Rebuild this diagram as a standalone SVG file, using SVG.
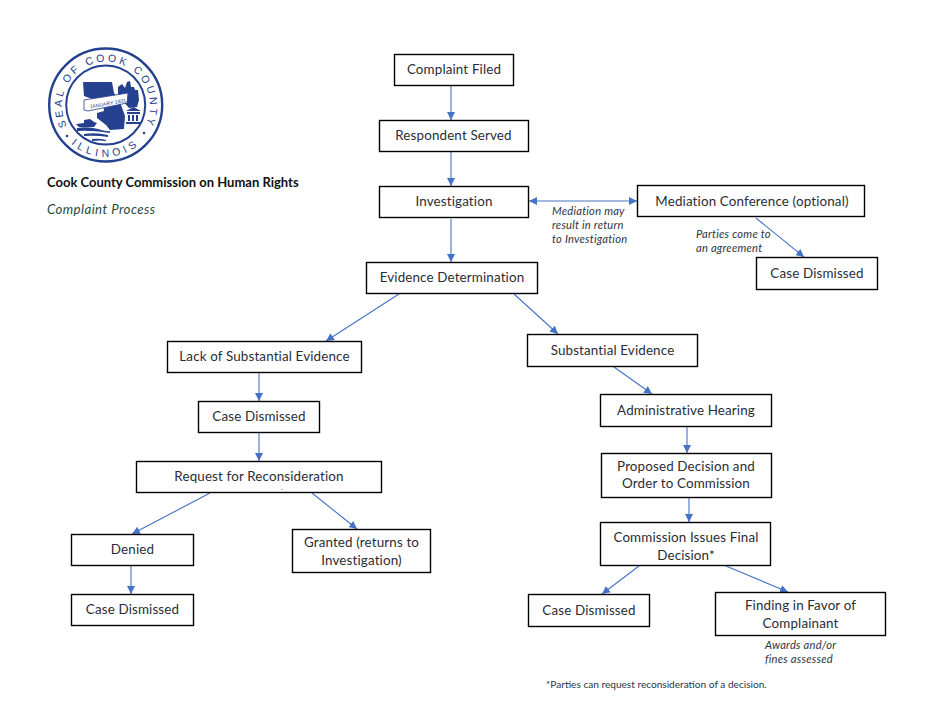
<svg xmlns="http://www.w3.org/2000/svg" width="936" height="717" viewBox="0 0 936 717">
<style>
text{font-family:"Lato","Noto Sans",sans-serif;fill:#222}
.b rect{fill:#fff;stroke:#000;stroke-width:1.4}
.b text{font-size:13.4px;text-anchor:middle;letter-spacing:.14px;fill:#2a2d36}
.n{font-size:11.2px;font-style:italic;fill:#2c3544;letter-spacing:.22px}
#connectors line{stroke:#4472c4;stroke-width:1.1;marker-end:url(#a)}
.s{fill:#24408e;font-size:10.500px;font-family:"Liberation Sans",sans-serif;text-anchor:middle}
</style>
<defs>
<marker id="a" markerUnits="userSpaceOnUse" markerWidth="9" markerHeight="8" refX="8" refY="4" orient="auto-start-reverse"><path d="M0 0L8 4L0 8z" fill="#4472c4"/></marker>
<path id="st" d="M66 124A44 44 0 1 1 146 124"/>
<path id="sb" d="M62 133A52 52 0 0 0 149.400 133"/>
</defs>
<rect width="936" height="717" fill="#fff"/>
<g id="seal">
<circle cx="105.700" cy="105" r="56.500" fill="none" stroke="#24408e" stroke-width="2.400"/>
<circle cx="105.700" cy="105" r="39.500" fill="none" stroke="#24408e" stroke-width="2"/>
<text class="s" style="letter-spacing:2.900px"><textPath href="#st" startOffset="50%">SEAL OF COOK COUNTY</textPath></text>
<text class="s" style="letter-spacing:4px"><textPath href="#sb" startOffset="50%">ILLINOIS</textPath></text>
<circle cx="67" cy="136" r="1.300" fill="#24408e"/><circle cx="144" cy="133" r="1.300" fill="#24408e"/>
<path d="M83 82H112L114 93L120 102L125 116L124 129L110 130L106 125L97 118L97 113L104 111L103 103L84 96z" fill="#24408e"/>
<path d="M118 87L122 84L125 88L127 82L130 81L131 87L134 87L135 90L138 90L139 100L137 107L129 108L122 100L118 95z" fill="#24408e"/>
<path d="M127 112H140V114H127zM128 115H130V121H128zM132 115H134V121H132zM136 115H138V121H136zM126 122H141V124H126zM133.500 107L141 111H126z" fill="#24408e"/>
<path d="M84 100L128 93L127 103L88 111L84 110z" fill="#fff" stroke="#24408e" stroke-width=".8"/>
<text x="0" y="0" transform="translate(90 108.500) rotate(-10)" style="font-size:5.200px;fill:#24408e;font-family:'Liberation Sans',sans-serif">JANUARY 1831</text>
<path d="M76 124L84 123L84 120L90 119L94 122L97 123L94 127H79zM77 128Q88 126 98 129T110 131V133Q90 130 77 131zM84 134Q96 132 108 135V137Q96 135 84 136zM92 139Q100 138 106 140V141Q100 140 92 141z" fill="#24408e"/>
</g>
<text x="47" y="187" style="font-size:13px;font-weight:700;fill:#111">Cook County Commission on Human Rights</text>
<text x="47" y="214" style="font-size:13.200px;font-style:italic;fill:#1d4a3c;letter-spacing:.45px">Complaint Process</text>
<g id="connectors">
<line x1="451" y1="86" x2="451" y2="120"/>
<line x1="451" y1="152" x2="451" y2="186"/>
<line x1="451" y1="219" x2="451" y2="262"/>
<line x1="529" y1="201" x2="637" y2="201" style="marker-start:url(#a)"/>
<line x1="756" y1="218" x2="804" y2="257"/>
<line x1="399" y1="294" x2="326" y2="341"/>
<line x1="514" y1="294" x2="558" y2="334"/>
<line x1="259" y1="373" x2="259" y2="401"/>
<line x1="259" y1="433" x2="259" y2="461"/>
<line x1="210" y1="493" x2="132" y2="534"/>
<line x1="312" y1="493" x2="357" y2="529"/>
<line x1="131" y1="566" x2="131" y2="594"/>
<line x1="614" y1="367" x2="652" y2="394"/>
<line x1="687" y1="427" x2="687" y2="453"/>
<line x1="689" y1="498" x2="689" y2="522"/>
<line x1="639" y1="566" x2="602" y2="594"/>
<line x1="726" y1="566" x2="788" y2="592"/>
</g>
<g id="n1" class="b"><rect x="394.500" y="54.500" width="119" height="31"/><text x="454" y="74">Complaint Filed</text></g>
<g id="n2" class="b"><rect x="379.500" y="120.500" width="149" height="31"/><text x="453.500" y="140">Respondent Served</text></g>
<g id="n3" class="b"><rect x="379.500" y="186.500" width="149" height="31"/><text x="454" y="206">Investigation</text></g>
<g id="n4" class="b"><rect x="637.500" y="185.500" width="227" height="31"/><text x="752" y="206">Mediation Conference (optional)</text></g>
<g id="n5" class="b"><rect x="756.500" y="257.500" width="121" height="32"/><text x="817" y="278">Case Dismissed</text></g>
<g id="n6" class="b"><rect x="366.500" y="262.500" width="171" height="31"/><text x="452" y="282">Evidence Determination</text></g>
<g id="n7" class="b"><rect x="167.500" y="341.500" width="194" height="31"/><text x="264.500" y="361">Lack of Substantial Evidence</text></g>
<g id="n8" class="b"><rect x="527.500" y="334.500" width="170" height="32"/><text x="612.500" y="355">Substantial Evidence</text></g>
<g id="n9" class="b"><rect x="198.500" y="401.500" width="121" height="31"/><text x="259" y="421">Case Dismissed</text></g>
<g id="n10" class="b"><rect x="600.500" y="394.500" width="171" height="32"/><text x="686" y="415">Administrative Hearing</text></g>
<g id="n11" class="b"><rect x="136.500" y="461.500" width="245" height="31"/><text x="259" y="481">Request for Reconsideration</text><circle cx="282" cy="489.500" r=".5" fill="#444" stroke="none"/></g>
<g id="n12" class="b"><rect x="601.500" y="453.500" width="170" height="44"/><text x="686" y="471">Proposed Decision and</text><text x="686" y="488">Order to Commission</text></g>
<g id="n13" class="b"><rect x="71.500" y="534.500" width="122" height="31"/><text x="132.500" y="554">Denied</text></g>
<g id="n14" class="b"><rect x="292.500" y="529.500" width="138" height="43"/><text x="361.500" y="547">Granted (returns to</text><text x="361.500" y="565">Investigation)</text></g>
<g id="n15" class="b"><rect x="600.500" y="522.500" width="170" height="43"/><text x="686" y="542">Commission Issues Final</text><text x="686" y="560">Decision*</text></g>
<g id="n16" class="b"><rect x="71.500" y="594.500" width="122" height="31"/><text x="132.500" y="614">Case Dismissed</text></g>
<g id="n17" class="b"><rect x="528.500" y="594.500" width="121" height="32"/><text x="589" y="615">Case Dismissed</text></g>
<g id="n18" class="b"><rect x="715.500" y="592.500" width="170" height="43"/><text x="800.500" y="610">Finding in Favor of</text><text x="800.500" y="628">Complainant</text></g>
<g id="notes">
<text class="n" x="552" y="215">Mediation may</text><text class="n" x="552" y="229">result in return</text><text class="n" x="552" y="243">to Investigation</text>
<text class="n" x="696" y="238">Parties come to</text><text class="n" x="696" y="252">an agreement</text>
<text class="n" x="765" y="649">Awards and/or</text><text class="n" x="765" y="663">fines assessed</text>
<text x="546" y="688" style="font-size:10.100px;fill:#2c3544">*Parties can request reconsideration of a decision.</text>
</g>
</svg>
